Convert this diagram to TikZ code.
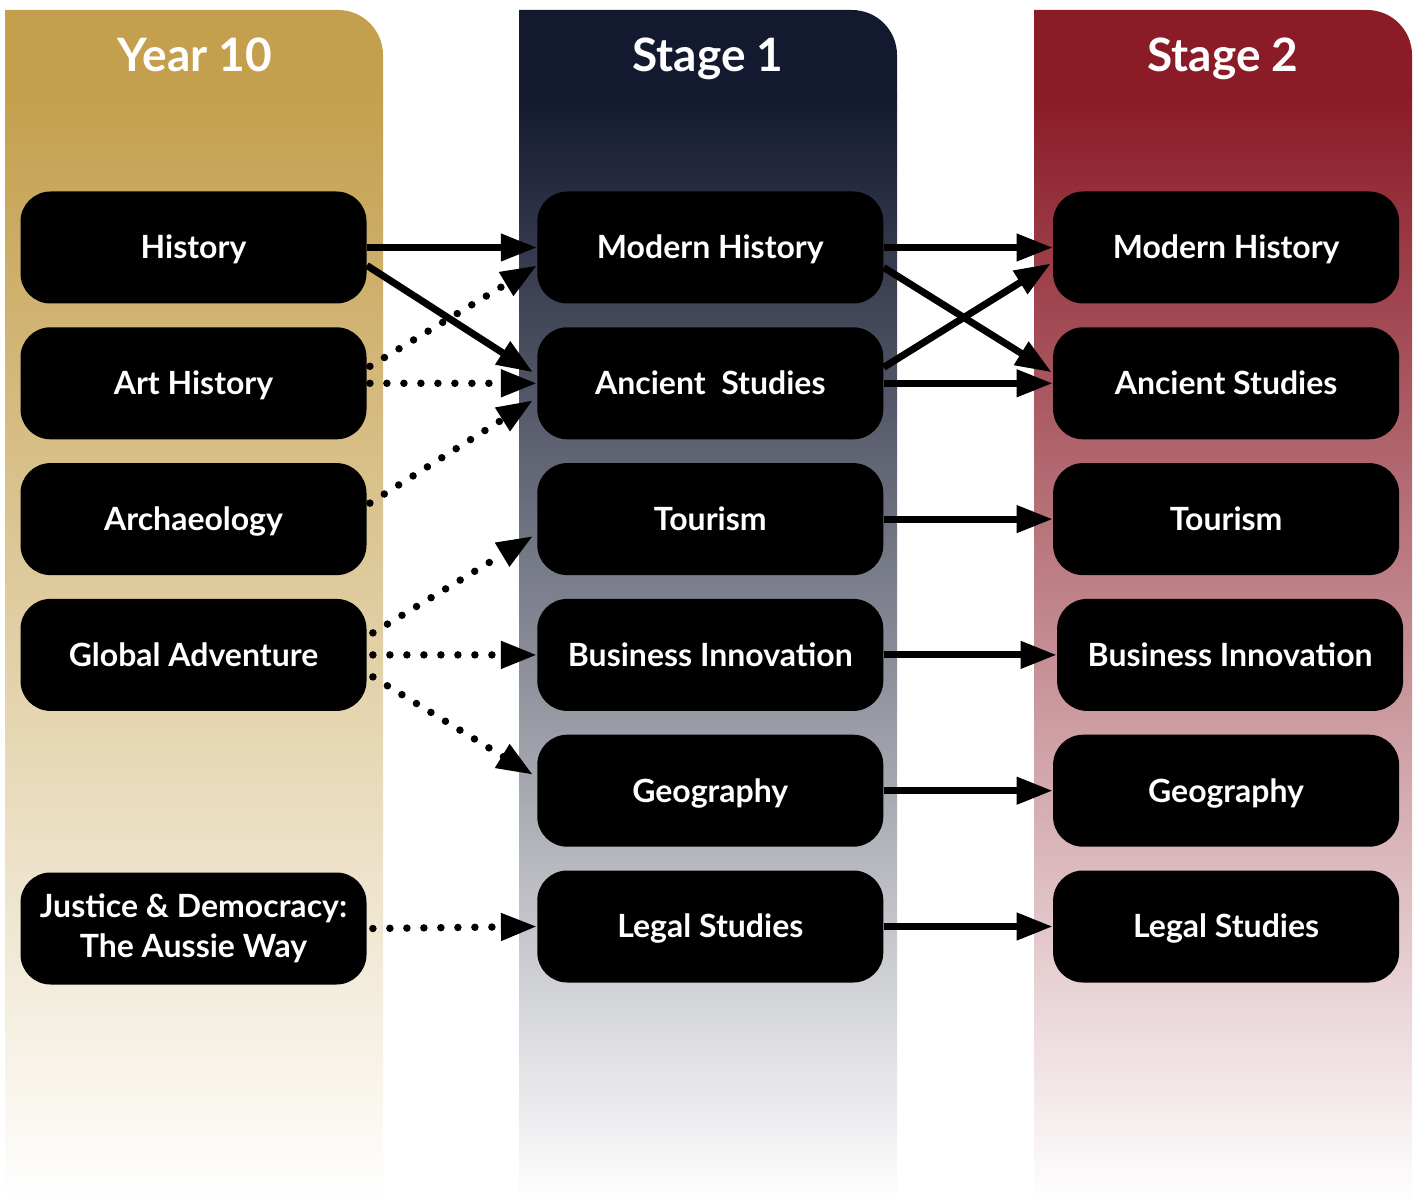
\documentclass[tikz,border=0pt]{standalone}
\usepackage{fontspec}
\setmainfont{Lato}
\usetikzlibrary{positioning,calc,arrows.meta}

\definecolor{yrgold}{RGB}{196,160,78}
\definecolor{stnavy}{RGB}{19,25,47}
\definecolor{stred}{RGB}{138,27,39}

\tikzset{
  course/.style={fill=black, rounded corners=15pt, minimum width=173pt,
    minimum height=56pt, inner sep=0pt, text=white, align=center,
    font=\bfseries\fontsize{16}{20}\selectfont, text height=11.3pt, text depth=0pt},
  heading/.style={text=white, font=\bfseries\fontsize{23}{28}\selectfont, anchor=base},
  link/.style={line width=3.5pt, -{Triangle[length=18pt,width=13pt]}},
  maybe/.style={link, line width=3.75pt, line cap=round, dash pattern=on 0pt off 8.5pt},
}

\begin{document}
\begin{tikzpicture}[x=0.5pt, y=-0.5pt]
    \useasboundingbox (0,0) rectangle (1422,1203);
    % columns
    \fill[yrgold] (5,97) -- (5,10) -- (338,10) arc[start angle=-90, end angle=0, radius=45] -- (383,97) -- cycle;
    \shade[top color=yrgold, bottom color=white] (5,96) rectangle (383,1203);
    \fill[stnavy] (519,97) -- (519,10) -- (852,10) arc[start angle=-90, end angle=0, radius=45] -- (897,97) -- cycle;
    \shade[top color=stnavy, bottom color=white] (519,96) rectangle (897,1203);
    \fill[stred] (1034,97) -- (1034,10) -- (1367,10) arc[start angle=-90, end angle=0, radius=45] -- (1412,97) -- cycle;
    \shade[top color=stred, bottom color=white] (1034,96) rectangle (1412,1203);

    \node[heading] (tyear) at (195,72) {Year 10};
    \node[heading] (tstage1) at (708,72) {Stage 1};
    \node[heading] (tstage2) at (1223,72) {Stage 2};

    % year 10
    \node[course] (hist) at (193.5,247.5) {History};
    \node[course, below=11.5pt of hist] (arthist) {Art History};
    \node[course, below=11.5pt of arthist] (arch) {Archaeology};
    \node[course, below=11.5pt of arch] (globadv) {Global Adventure};

    % stage 1
    \node[course, right=85pt of hist] (smodern) {Modern History};
    \node[course, below=11.5pt of smodern] (sancient) {Ancient\ \ Studies};
    \node[course, below=11.5pt of sancient] (stour) {Tourism};
    \node[course, below=11.5pt of stour] (sbusiness) {Business Innovation};
    \node[course, below=11.5pt of sbusiness] (sgeo) {Geography};
    \node[course, below=11.5pt of sgeo] (slegal) {Legal Studies};

    \node[course, left=85pt of slegal, text height={}, text depth={}, yshift=-1pt] (justice) {Justice \& Democracy:\\The Aussie Way};

    % stage 2
    \node[course, right=84.5pt of smodern] (tmodern) {Modern History};
    \node[course, right=84.5pt of sancient] (tancient) {Ancient Studies};
    \node[course, right=84.5pt of stour] (ttour) {Tourism};
    \node[course, right=84.5pt of sbusiness, xshift=2pt] (tbusiness) {Business Innovation};
    \node[course, right=84.5pt of sgeo] (tgeo) {Geography};
    \node[course, right=84.5pt of slegal] (tlegal) {Legal Studies};

    % year 10 to stage 1
    \draw[link] (hist.east) -- (smodern.west);
    \draw[link] ($(hist.east)+(0,18)$) -- ($(sancient.west)+(-4,-11)$);
    \draw[maybe] ($(arthist.east)+(3,-17)$) -- ($(smodern.west)+(0,18)$);
    \draw[maybe] ($(arthist.east)+(3,0)$) -- (sancient.west);
    \draw[maybe] ($(arch.east)+(3,-16)$) -- ($(sancient.west)+(-4,17)$);
    \draw[maybe] ($(globadv.east)+(6,-22)$) -- ($(stour.west)+(-4,17)$);
    \draw[maybe] ($(globadv.east)+(6,0)$) -- (sbusiness.west);
    \draw[maybe] ($(globadv.east)+(6,22)$) -- ($(sgeo.west)+(-4,-16)$);
    \draw[maybe] ($(justice.east)+(6,0)$) -- (slegal.west);

    % stage 1 to stage 2
    \draw[link] (smodern.east) -- (tmodern.west);
    \draw[link] ($(smodern.east)+(0,20)$) -- ($(tancient.west)+(-1,-11)$);
    \draw[link] ($(sancient.east)+(0,-16)$) -- ($(tmodern.west)+(-2,16)$);
    \draw[link] (sancient.east) -- (tancient.west);
    \draw[link] (stour.east) -- (ttour.west);
    \draw[link] (sbusiness.east) -- (tbusiness.west);
    \draw[link] (sgeo.east) -- (tgeo.west);
    \draw[link] (slegal.east) -- (tlegal.west);
\end{tikzpicture}
\end{document}
